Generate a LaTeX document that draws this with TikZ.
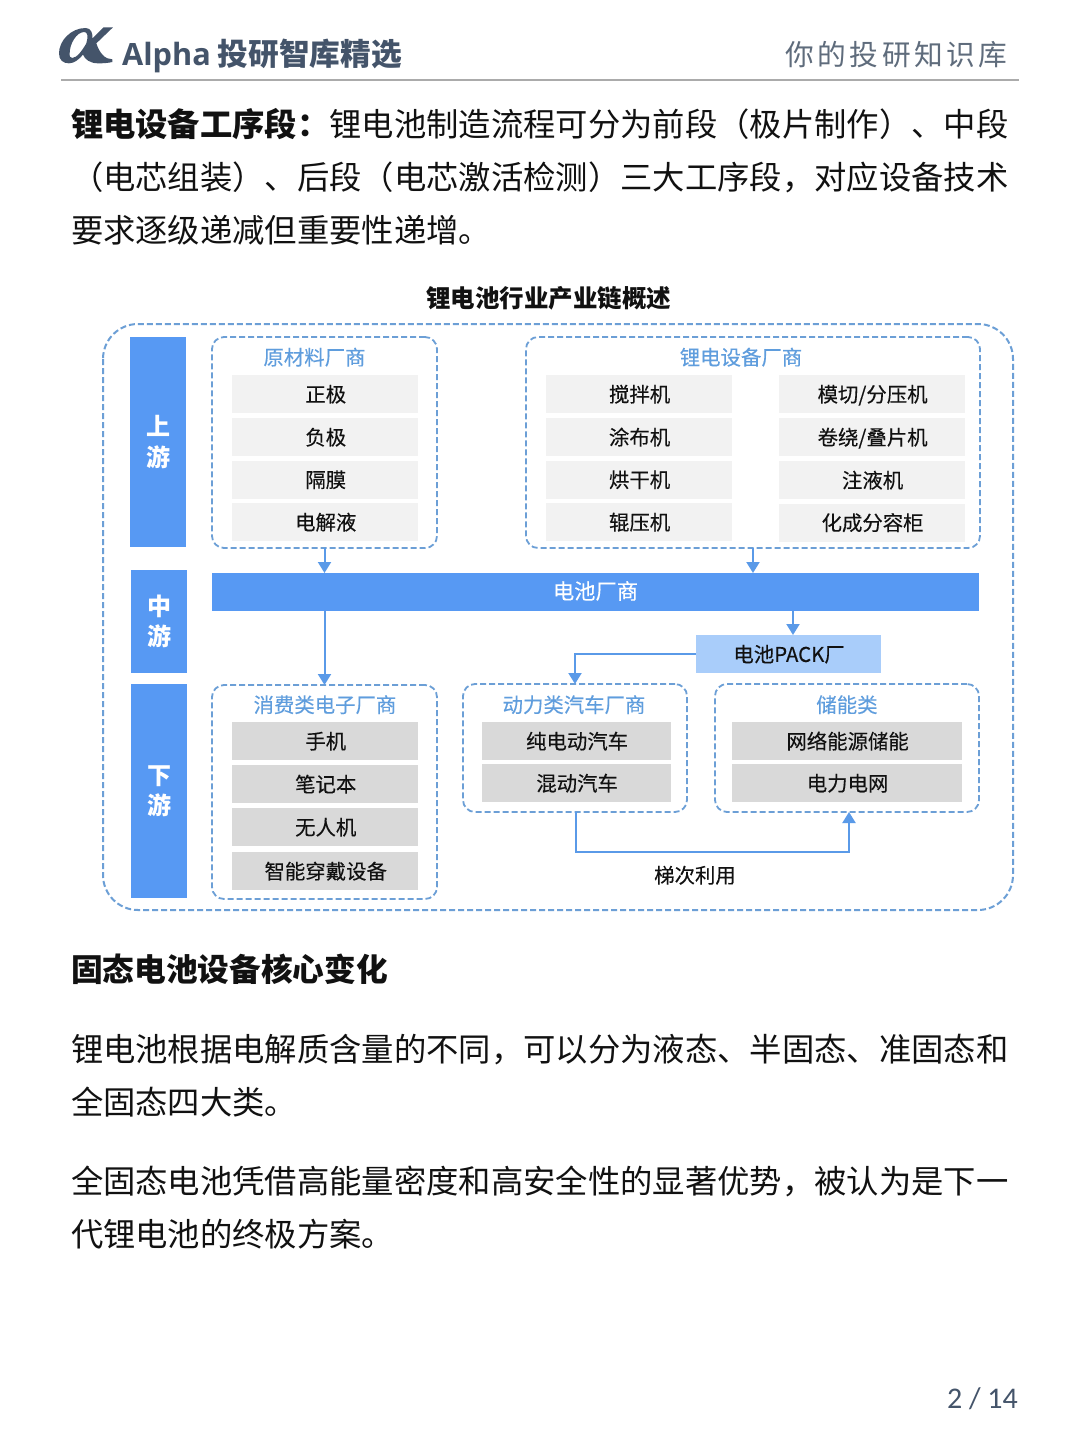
\documentclass[tikz,border=0pt]{standalone}
\usepackage{fontspec}
\usetikzlibrary{arrows.meta,calc}
\setmainfont{Noto Sans CJK SC}
\newfontfamily\latinhead{Open Sans}
\newfontfamily\cjkspaced[LetterSpace=12]{Noto Sans CJK SC}
\newfontfamily\cjkfirm[FakeBold=0.25]{Noto Sans CJK SC}
\newfontfamily\pagefont{Carlito}
\definecolor{barblue}{HTML}{5799F3}
\definecolor{dashblue}{HTML}{6C9FD6}
\definecolor{headblue}{HTML}{5F9DDD}
\definecolor{arrowblue}{HTML}{5A9AE8}
\definecolor{packblue}{HTML}{A9CDFA}
\definecolor{lightitem}{HTML}{F2F2F2}
\definecolor{darkitem}{HTML}{D9D9D9}
\definecolor{slate}{HTML}{44546A}
\definecolor{slatelight}{HTML}{5F6C7C}
\definecolor{inktext}{HTML}{111111}
\tikzset{
  bodyline/.style={anchor=base west,inner sep=0pt,outer sep=0pt,text=inktext,font=\fontsize{32.33}{32.33}\selectfont},
  dashbox/.style={draw=dashblue,line width=1.8pt,dash pattern=on 6pt off 3pt,rounded corners=12pt,inner sep=0pt,outer sep=0pt},
  boxhead/.style={inner sep=0pt,text=headblue,text height=16.5pt,text depth=.6pt,font=\cjkfirm\fontsize{20.4}{20.4}\selectfont},
  itemtext/.style={inner sep=0pt,outer sep=0pt,text=inktext,text height=16.5pt,text depth=.6pt,font=\cjkfirm\fontsize{20.4}{20.4}\selectfont,execute at begin node=\hspace*{1.5pt}},
  nudged/.style={execute at begin node=\hspace*{-0.3pt}},
  lightbox/.style={itemtext,fill=lightitem,minimum height=38pt},
  darkbox/.style={itemtext,fill=darkitem,minimum height=38pt},
  sidebar/.style={fill=barblue,inner sep=0pt,outer sep=0pt,text=white,align=center,minimum width=56pt,font=\fontsize{24}{30.5}\selectfont\bfseries},
  link/.style={draw=arrowblue,line width=2pt,-{Triangle[length=11pt,width=13pt]}},
}
\begin{document}
\begin{tikzpicture}[x=1pt,y=-1pt]
\useasboundingbox (0,0) rectangle (1080,1440);
\fill[white] (0,0) rectangle (1080,1440);
% header
\begin{scope}[shift={(55,20)},x=0.3333pt,y=-0.3333pt]
\fill[slate,even odd rule] (92,24) .. controls (48,24) and (12,62) .. (12,100)
  .. controls (12,120) and (24,130) .. (42,130)
  .. controls (58,130) and (72,118) .. (84,104)
  .. controls (90,118) and (104,130) .. (130,130)
  .. controls (145,130) and (160,129) .. (172,126) -- (172,118)
  .. controls (150,118) and (134,100) .. (124,70) -- (174,22) -- (146,22) -- (112,56)
  .. controls (114,40) and (108,24) .. (92,24) -- cycle
  (88,36) .. controls (64,36) and (44,72) .. (44,100)
  .. controls (43,110) and (46,114) .. (52,114)
  .. controls (66,114) and (84,88) .. (94,70)
  .. controls (100,50) and (98,36) .. (88,36) -- cycle;
\end{scope}
\node[anchor=base west,inner sep=0pt,text=slate,font=\fontsize{30.7}{30.7}\selectfont] (brand) at (122,65) {{\latinhead\bfseries Alpha} \bfseries 投研智库精选};
\node[anchor=base west,inner sep=0pt,text=slatelight,font=\cjkspaced\fontsize{28.7}{28.7}\selectfont] (slogan) at (785.5,65) {你的投研知识库};
\draw[color=black!33,line width=1.2pt] (61,80) -- (1019,80);
% paragraphs
\node[bodyline] (p1) at (71,136) {\bfseries 锂电设备工序段：\mdseries 锂电池制造流程可分为前段（极片制作）、中段};
\node[bodyline] (p2) at (71,189) {（电芯组装）、后段（电芯激活检测）三大工序段，对应设备技术};
\node[bodyline] (p3) at (71,242) {要求逐级递减但重要性递增。};
\node[inner sep=0pt,text=inktext,font=\fontsize{24.5}{24.5}\selectfont\bfseries] (title) at (548.5,298) {锂电池行业产业链概述};
% outer frame
\draw[draw=dashblue,line width=2pt,dash pattern=on 6pt off 3pt,rounded corners=35pt] (103,324) rectangle (1013,910);
% side bars
\node[sidebar,minimum height=210pt] (up) at (158,442) {上\\游};
\node[sidebar,minimum height=103pt] (mid) at (159,621.5) {中\\游};
\node[sidebar,minimum height=214pt] (down) at (159,791) {下\\游};
% containers
\node[dashbox,minimum width=225pt,minimum height=211pt] (raw) at (324.5,442.5) {};
\node[dashbox,minimum width=454pt,minimum height=211pt] (equip) at (753,442.5) {};
\node[dashbox,minimum width=225pt,minimum height=214pt] (consumer) at (324.5,792) {};
\node[dashbox,minimum width=224pt,minimum height=128pt] (power) at (575,748) {};
\node[dashbox,minimum width=264pt,minimum height=128pt] (storage) at (847,748) {};
% container heads
\node[boxhead] (rawh) at (314.5,357) {原材料厂商};
\node[boxhead] (equiph) at (741,357) {锂电设备厂商};
\node[boxhead] (consh) at (325,704.5) {消费类电子厂商};
\node[boxhead] (powh) at (574,704.5) {动力类汽车厂商};
\node[boxhead] (stoh) at (847,704.5) {储能类};
% raw items
\node[lightbox,minimum width=186pt] (r1) at (325,394) {正极};
\node[lightbox,minimum width=186pt] (r2) at (325,437) {负极};
\node[lightbox,minimum width=186pt] (r3) at (325,479.5) {隔膜};
\node[lightbox,minimum width=186pt] (r4) at (325,522) {电解液};
% equipment items
\node[lightbox,nudged,minimum width=186pt] (e1) at (639,394) {搅拌机};
\node[lightbox,nudged,minimum width=186pt] (e2) at (639,437) {涂布机};
\node[lightbox,nudged,minimum width=186pt] (e3) at (639,479.5) {烘干机};
\node[lightbox,nudged,minimum width=186pt] (e4) at (639,522) {辊压机};
\node[lightbox,nudged,minimum width=186pt] (e5) at (872,394) {模切/分压机};
\node[lightbox,nudged,minimum width=186pt] (e6) at (872,437) {卷绕/叠片机};
\node[lightbox,nudged,minimum width=186pt] (e7) at (872,480) {注液机};
\node[lightbox,nudged,minimum width=186pt] (e8) at (872,522.5) {化成分容柜};
% middle
\node[inner sep=0pt,outer sep=0pt,fill=barblue,minimum width=767pt,minimum height=38pt] (cell) at (595.5,592) {};
\node[inner sep=0pt,text=white,text height=17pt,text depth=.8pt,font=\cjkfirm\fontsize{21.3}{21.3}\selectfont] (cellt) at (595.5,591) {电池厂商};
\node[itemtext,nudged,fill=packblue,minimum width=185pt,minimum height=38pt] (pack) at (788.5,654) {电池PACK厂};
% consumer items
\node[darkbox,minimum width=186pt] (c1) at (325,741) {手机};
\node[darkbox,minimum width=186pt] (c2) at (325,784) {笔记本};
\node[darkbox,minimum width=186pt] (c3) at (325,827) {无人机};
\node[darkbox,minimum width=186pt] (c4) at (325,871) {智能穿戴设备};
% power items
\node[darkbox,nudged,minimum width=189pt] (m1) at (576.5,741) {纯电动汽车};
\node[darkbox,nudged,minimum width=189pt] (m2) at (576.5,783) {混动汽车};
% storage items
\node[darkbox,nudged,minimum width=230pt] (s1) at (847,741) {网络能源储能};
\node[darkbox,nudged,minimum width=230pt] (s2) at (847,783) {电力电网};
% connectors
\draw[link] (raw.south) -- (raw.south |- cell.north);
\draw[link] (equip.south) -- (equip.south |- cell.north);
\draw[link] (cell.south -| consumer.north) -- (consumer.north);
\draw[link] ([xshift=4.5pt]pack.north |- cell.south) -- ([xshift=4.5pt]pack.north);
\draw[link] (pack.west) -| (power.north);
\draw[link] ([xshift=1pt]power.south) -- ++(0,40) -| ([xshift=2pt]storage.south);
\node[inner sep=0pt,text=inktext,text height=16.5pt,text depth=.6pt,font=\cjkfirm\fontsize{20.4}{20.4}\selectfont] (reuse) at (695,875) {梯次利用};
% lower text
\node[bodyline,font=\fontsize{31.7}{31.7}\selectfont\bfseries] (h2) at (71,981) {固态电池设备核心变化};
\node[bodyline] (p4) at (71,1061) {锂电池根据电解质含量的不同，可以分为液态、半固态、准固态和};
\node[bodyline] (p5) at (71,1114) {全固态四大类。};
\node[bodyline] (p6) at (71,1193) {全固态电池凭借高能量密度和高安全性的显著优势，被认为是下一};
\node[bodyline] (p7) at (71,1246) {代锂电池的终极方案。};
\node[anchor=base east,inner sep=0pt,text=slate,font=\pagefont\fontsize{30}{30}\selectfont] (pageno) at (1018,1408) {2 / 14};
\end{tikzpicture}
\end{document}
